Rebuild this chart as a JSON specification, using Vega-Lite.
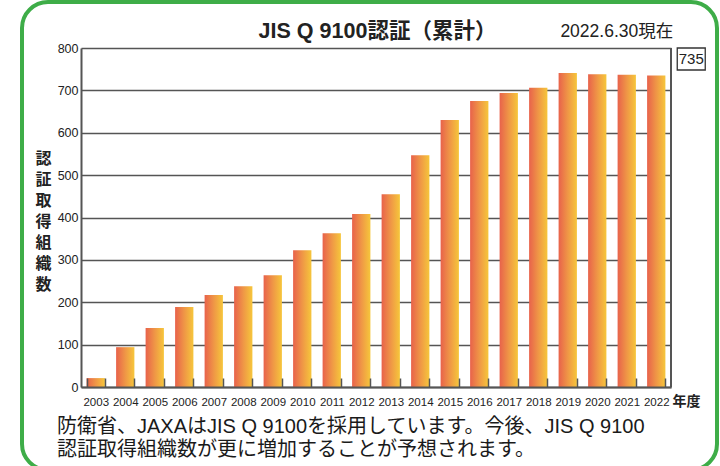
{
  "$schema": "https://vega.github.io/schema/vega-lite/v6.json",
  "width": 695,
  "height": 468,
  "autosize": {"type": "none"},
  "padding": {"left": 22, "top": 2, "right": 3, "bottom": 0},
  "background": "white",
  "config": {
    "view": {"stroke": "#3EAD48", "strokeWidth": 4, "cornerRadius": 26},
    "font": "Liberation Sans, Noto Sans CJK JP, sans-serif"
  },
  "title": {
    "text": "JIS Q 9100認証（累計）",
    "fontSize": 21.5,
    "fontWeight": "bold",
    "color": "#222",
    "anchor": "middle",
    "frame": "group",
    "offset": -40,
    "dx": 8,
    "font": "Liberation Sans, Noto Sans CJK JP, sans-serif"
  },
  "data": {
    "values": [
      {"year": "2003", "count": 21},
      {"year": "2004", "count": 94},
      {"year": "2005", "count": 139},
      {"year": "2006", "count": 189},
      {"year": "2007", "count": 217},
      {"year": "2008", "count": 238},
      {"year": "2009", "count": 264},
      {"year": "2010", "count": 323},
      {"year": "2011", "count": 363},
      {"year": "2012", "count": 408},
      {"year": "2013", "count": 455},
      {"year": "2014", "count": 547},
      {"year": "2015", "count": 630},
      {"year": "2016", "count": 675},
      {"year": "2017", "count": 694},
      {"year": "2018", "count": 706},
      {"year": "2019", "count": 741},
      {"year": "2020", "count": 738},
      {"year": "2021", "count": 737},
      {"year": "2022", "count": 735}
    ]
  },
  "layer": [
    {
      "mark": {
        "type": "bar",
        "color": {
          "gradient": "linear",
          "x1": 0, "x2": 1, "y1": 0, "y2": 0,
          "stops": [
            {"offset": 0, "color": "#E8624B"},
            {"offset": 0.5, "color": "#EF9646"},
            {"offset": 1, "color": "#F6C63B"}
          ]
        }
      },
      "encoding": {
        "x": {
          "field": "year",
          "type": "ordinal",
          "scale": {"range": [59, 649], "paddingInner": 0.38, "paddingOuter": 0.19},
          "axis": {
            "title": "年度",
            "titleX": 650,
            "titleY": 14,
            "titleAlign": "left",
            "titleBaseline": "middle",
            "titleFontSize": 14,
            "titleFontWeight": "bold",
            "titleFont": "Noto Sans CJK JP",
            "titleColor": "#222",
            "labelAngle": 0,
            "labelFontSize": 11.5,
            "labelFont": "Liberation Sans Narrow, Arial Narrow, sans-serif",
            "labelColor": "#222",
            "labelPadding": 18,
            "tickBand": "extent",
            "tickSize": -9,
            "tickColor": "#555",
            "tickWidth": 1.5,
            "domainColor": "#555",
            "domainWidth": 2,
            "offset": -83,
            "grid": false,
            "zindex": 1
          }
        },
        "y": {
          "field": "count",
          "type": "quantitative",
          "scale": {"domain": [0, 800], "range": [385, 46], "nice": false},
          "axis": {
            "title": ["認", "証", "取", "得", "組", "織", "数"],
            "titleAngle": 0,
            "titleX": -38,
            "titleY": 156,
            "titleAlign": "center",
            "titleBaseline": "middle",
            "titleFontSize": 16,
            "titleLineHeight": 21,
            "titleFontWeight": "bold",
            "titleFont": "Noto Sans CJK JP",
            "titleColor": "#222",
            "values": [0, 100, 200, 300, 400, 500, 600, 700, 800],
            "labelFontSize": 12.5,
            "labelFont": "Liberation Sans Narrow, Arial Narrow, sans-serif",
            "labelColor": "#222",
            "labelPadding": 3,
            "ticks": false,
            "offset": -59,
            "domainColor": "#555",
            "domainWidth": 2,
            "grid": true,
            "gridColor": "#555",
            "gridWidth": 1.5,
            "gridOpacity": 1
          }
        }
      }
    },
    {
      "data": {"values": [{"from": 0, "to": 800}]},
      "mark": {"type": "rule", "color": "#555", "strokeWidth": 2, "xOffset": 14.75},
      "encoding": {
        "x": {"datum": "2022", "type": "ordinal"},
        "y": {"field": "from", "type": "quantitative"},
        "y2": {"field": "to"}
      }
    },
    {
      "data": {"values": [{"note": "2022.6.30現在"}]},
      "mark": {"type": "text", "align": "right", "baseline": "middle", "dx": 17, "dy": -16, "fontSize": 17.5, "color": "#222"},
      "encoding": {
        "x": {"datum": "2022", "type": "ordinal"},
        "y": {"datum": 800, "type": "quantitative"},
        "text": {"field": "note"}
      }
    },
    {
      "data": {"values": [{"total": 735}]},
      "mark": {
        "type": "point",
        "shape": "M-1.4,-1.1H1.4V1.1H-1.4Z",
        "size": 400,
        "filled": false,
        "stroke": "#333",
        "strokeWidth": 1.3,
        "opacity": 1,
        "xOffset": 35,
        "yOffset": 11
      },
      "encoding": {
        "x": {"datum": "2022", "type": "ordinal"},
        "y": {"datum": 800, "type": "quantitative"}
      }
    },
    {
      "data": {"values": [{"total": 735}]},
      "mark": {"type": "text", "align": "center", "baseline": "middle", "dx": 35, "dy": 11, "fontSize": 15, "color": "#222"},
      "encoding": {
        "x": {"datum": "2022", "type": "ordinal"},
        "y": {"datum": 800, "type": "quantitative"},
        "text": {"field": "total"}
      }
    },
    {
      "data": {"values": [{"caption": "防衛省、JAXAはJIS Q 9100を採用しています。今後、JIS Q 9100\n認証取得組織数が更に増加することが予想されます。"}]},
      "mark": {"type": "text", "align": "left", "baseline": "alphabetic", "lineBreak": "\n", "lineHeight": 23, "dx": -38.75, "dy": 46, "fontSize": 20, "color": "#1a1a1a"},
      "encoding": {
        "x": {"datum": "2003", "type": "ordinal"},
        "y": {"datum": 0, "type": "quantitative"},
        "text": {"field": "caption"}
      }
    }
  ]
}
